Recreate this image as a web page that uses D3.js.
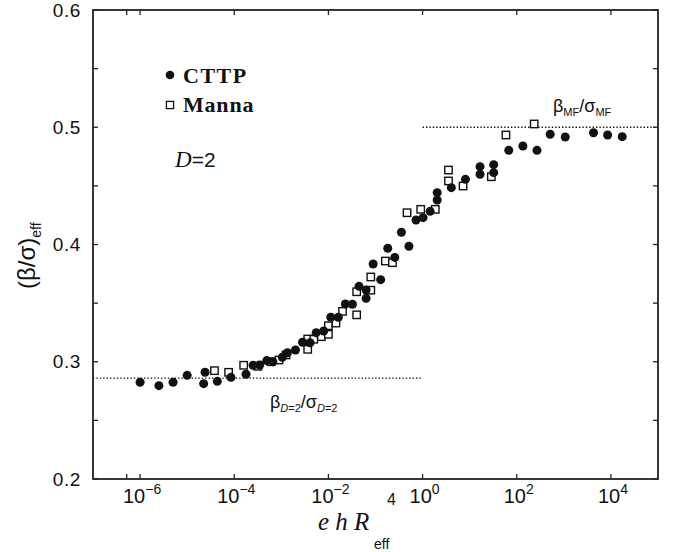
<!DOCTYPE html>
<html>
<head>
<meta charset="utf-8">
<script src="https://cdn.jsdelivr.net/npm/d3@7"></script>
<style>
  body { margin: 0; background: #fff; }
  svg { display: block; }
</style>
</head>
<body>
<div id="chart"></div>
<script>
let chart_width = 677;
let chart_height = 552;

// x values are stored as log10 exponents (e h R_eff^4 = 10^x)
let cttp_logx = [-6.00,-5.60,-5.30,-5.00,-4.65,-4.62,-4.36,-4.07,-3.75,-3.60,-3.46,-3.31,-3.18,-2.98,-2.87,-2.70,
                 -2.55,-2.39,-2.26,-2.10,-1.95,-1.79,-1.64,-1.49,-1.35,-1.20,-1.20,-1.05,-0.89,-0.74,-0.59,-0.45,
                 -0.29,-0.14,0.01,0.16,0.31,0.31,0.61,0.91,1.22,1.22,1.51,1.51,1.83,2.13,2.43,2.71,3.03,3.63,3.93,4.24];
let cttp_y = [0.2825,0.2796,0.2825,0.2884,0.2813,0.2910,0.2833,0.2867,0.2893,0.2970,0.2972,0.3010,0.3000,0.3038,0.3077,0.3100,
              0.3166,0.3162,0.3248,0.3262,0.3380,0.3380,0.3493,0.3490,0.3643,0.3612,0.3541,0.3834,0.3700,0.3968,0.3890,0.4104,
              0.3985,0.4209,0.4229,0.4283,0.4380,0.4442,0.4485,0.4556,0.4599,0.4664,0.4613,0.4681,0.4803,0.4840,0.4803,0.4940,0.4917,0.4953,0.4934,0.4920];

let manna_logx = [-4.42,-4.12,-3.80,-3.50,-3.22,-3.05,-2.90,-2.44,-2.44,-2.31,-2.15,-2.00,-2.00,-1.84,-1.70,
                  -1.40,-1.40,-1.10,-1.10,-0.79,-0.64,-0.33,-0.04,0.27,0.55,0.55,0.86,1.46,1.77,2.37];
let manna_y = [0.2924,0.2910,0.2970,0.2961,0.3000,0.3015,0.3058,0.3106,0.3194,0.3192,0.3214,0.3234,0.3307,0.3330,0.3430,
               0.3400,0.3597,0.3610,0.3723,0.3859,0.3845,0.4271,0.4300,0.4300,0.4635,0.4542,0.4499,0.4578,0.4934,0.5028];

let x_major_exp = [-6,-4,-2,0,2,4];
let x_minor = [5.2e-7];
let y_ticks = [0.2,0.25,0.3,0.35,0.4,0.45,0.5,0.55,0.6];
let y_labels = [0.2,0.3,0.4,0.5,0.6];

let d2_level = 0.286;
let mf_level = 0.5;

let cttp = cttp_logx.map((v,i)=>({x: Math.pow(10,v), y: cttp_y[i]}));
let manna = manna_logx.map((v,i)=>({x: Math.pow(10,v), y: manna_y[i]}));

let xScale = d3.scaleLog().domain([1e-7,1e5]).range([93,658]);
let yScale = d3.scaleLinear().domain([0.2,0.6]).range([479,10]);

let svg = d3.select('#chart')
    .append('svg')
    .attr('width',chart_width)
    .attr('height',chart_height);

let sans = 'Liberation Sans, Arial, sans-serif';
let serif = 'Liberation Serif, Times New Roman, serif';

// reference lines
svg.append('line')
    .attr('x1',xScale(1e-7)).attr('x2',xScale(1))
    .attr('y1',yScale(d2_level)).attr('y2',yScale(d2_level))
    .attr('stroke','#111').attr('stroke-width',1.4)
    .attr('stroke-dasharray','1.4,2');
svg.append('line')
    .attr('x1',xScale(1)).attr('x2',xScale(1e5))
    .attr('y1',yScale(mf_level)).attr('y2',yScale(mf_level))
    .attr('stroke','#111').attr('stroke-width',1.4)
    .attr('stroke-dasharray','1.4,2');

// ticks (inward) on all four sides
let xTickVals = x_major_exp.map(e=>Math.pow(10,e)).concat(x_minor);
let tickLen = 5;
let ticks = svg.append('g').attr('stroke','#222').attr('stroke-width',1.3);
xTickVals.forEach(function(t){
    ticks.append('line').attr('x1',xScale(t)).attr('x2',xScale(t))
        .attr('y1',yScale(0.2)).attr('y2',yScale(0.2)-tickLen);
    ticks.append('line').attr('x1',xScale(t)).attr('x2',xScale(t))
        .attr('y1',yScale(0.6)).attr('y2',yScale(0.6)+tickLen);
});
y_ticks.forEach(function(t){
    ticks.append('line').attr('x1',xScale(1e-7)).attr('x2',xScale(1e-7)+tickLen)
        .attr('y1',yScale(t)).attr('y2',yScale(t));
    ticks.append('line').attr('x1',xScale(1e5)).attr('x2',xScale(1e5)-tickLen)
        .attr('y1',yScale(t)).attr('y2',yScale(t));
});

// frame
svg.append('rect')
    .attr('x',xScale(1e-7)).attr('y',yScale(0.6))
    .attr('width',xScale(1e5)-xScale(1e-7))
    .attr('height',yScale(0.2)-yScale(0.6))
    .attr('fill','none').attr('stroke','#222').attr('stroke-width',1.8);

// y tick labels
svg.append('g').selectAll('text')
    .data(y_labels)
    .enter()
    .append('text')
    .text(d=>d.toFixed(1))
    .attr('x',xScale(1e-7)-12)
    .attr('y',d=>yScale(d)+6.5)
    .attr('text-anchor','end')
    .style('font-family',sans)
    .style('font-size','19px')
    .style('letter-spacing','0.6px')
    .attr('fill','#111');

// x tick labels 10^n
let xl = svg.append('g').selectAll('text')
    .data(x_major_exp)
    .enter()
    .append('text')
    .attr('x',d=>xScale(Math.pow(10,d))+2)
    .attr('y',503)
    .attr('text-anchor','middle')
    .style('font-family',sans)
    .style('font-size','20px')
    .attr('fill','#111');
xl.append('tspan').text('10');
xl.append('tspan').text(d=>d<0 ? '\u2212'+(-d) : ''+d)
    .attr('dy',-9)
    .style('font-size','14px');

// data points
svg.append('g')
    .selectAll('rect')
    .data(manna)
    .enter()
    .append('rect')
    .attr('x',d=>xScale(d.x)-3.7)
    .attr('y',d=>yScale(d.y)-3.7)
    .attr('width',7.4)
    .attr('height',7.4)
    .attr('fill','#fff')
    .attr('stroke','#111')
    .attr('stroke-width',1.4);

svg.append('g')
    .selectAll('circle')
    .data(cttp)
    .enter()
    .append('circle')
    .attr('cx',d=>xScale(d.x))
    .attr('cy',d=>yScale(d.y))
    .attr('r',4.5)
    .attr('fill','#111');

// legend
svg.append('circle').attr('cx',170).attr('cy',75).attr('r',4.3).attr('fill','#111');
svg.append('rect').attr('x',166.4).attr('y',101.4).attr('width',7.2).attr('height',7.2)
    .attr('fill','#fff').attr('stroke','#111').attr('stroke-width',1.3);
svg.append('text').text('CTTP')
    .attr('x',183).attr('y',83)
    .style('font-family',serif).style('font-weight','bold').style('font-size','22px')
    .style('letter-spacing','1.5px')
    .attr('fill','#111');
svg.append('text').text('Manna')
    .attr('x',183).attr('y',112)
    .style('font-family',serif).style('font-weight','bold').style('font-size','22px')
    .style('letter-spacing','0.8px')
    .attr('fill','#111');

let dlab = svg.append('text').attr('x',175).attr('y',167)
    .style('font-family',sans).style('font-size','21px').attr('fill','#111');
dlab.append('tspan').text('D').style('font-family',serif).style('font-style','italic').style('font-size','23px');
dlab.append('tspan').text('=2');

// plateau labels
let mf = svg.append('text').attr('x',553).attr('y',112)
    .style('font-family',sans).style('font-size','18px').attr('fill','#111');
mf.append('tspan').text('\u03b2');
mf.append('tspan').text('MF').attr('dy',4).style('font-size','11px');
mf.append('tspan').text('/\u03c3').attr('dy',-4);
mf.append('tspan').text('MF').attr('dy',4).style('font-size','11px');

let d2 = svg.append('text').attr('x',270).attr('y',408)
    .style('font-family',sans).style('font-size','18px').attr('fill','#111');
d2.append('tspan').text('\u03b2');
d2.append('tspan').text('D').attr('dy',4).style('font-size','11px').style('font-style','italic');
d2.append('tspan').text('=2').style('font-size','11px');
d2.append('tspan').text('/\u03c3').attr('dy',-4);
d2.append('tspan').text('D').attr('dy',4).style('font-size','11px').style('font-style','italic');
d2.append('tspan').text('=2').style('font-size','11px');

// y axis title
let yt = svg.append('text')
    .attr('transform','translate(35,289) rotate(-90)')
    .style('font-family',sans).style('font-size','24px').attr('fill','#111');
yt.append('tspan').text('(\u03b2/\u03c3)');
yt.append('tspan').text('eff').attr('dy',6).style('font-size','14px');

// x axis title
svg.append('text').text('e h R')
    .attr('x',318).attr('y',530)
    .style('font-family',serif).style('font-style','italic').style('font-size','25px')
    .attr('fill','#111');
svg.append('text').text('eff')
    .attr('x',374).attr('y',549)
    .style('font-family',sans).style('font-size','14px').attr('fill','#111');
svg.append('text').text('4')
    .attr('x',387).attr('y',505)
    .style('font-family',sans).style('font-size','16px').attr('fill','#111');
</script>
</body>
</html>
